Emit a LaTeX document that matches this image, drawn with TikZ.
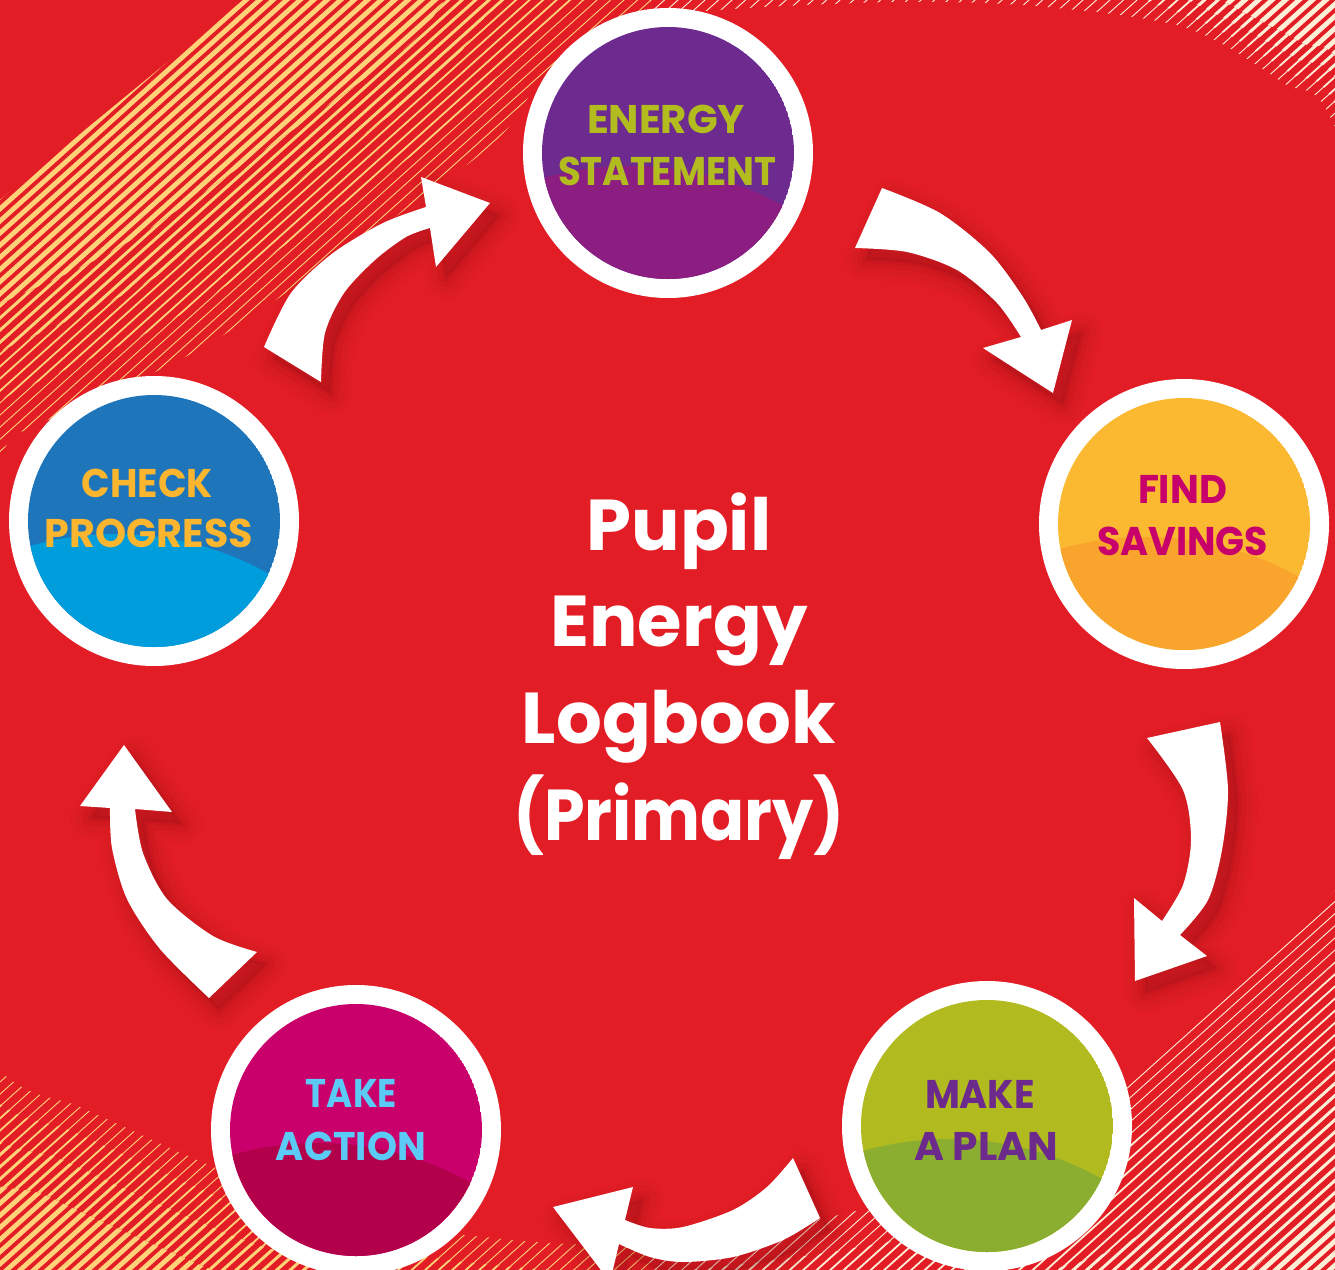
\documentclass[tikz,border=0pt]{standalone}
\usepackage{fontspec}
\setmainfont{Poppins}
\usepackage{graphicx}
\definecolor{bgred}{HTML}{E31D25}
\definecolor{stripeY}{HTML}{FFD27A}
\definecolor{stripeC}{HTML}{FDEFD6}
\definecolor{shc}{HTML}{6E070B}
\definecolor{esT}{HTML}{6D2B90}
\definecolor{esB}{HTML}{8B1E80}
\definecolor{esX}{HTML}{B3BC1F}
\definecolor{fsT}{HTML}{FBB931}
\definecolor{fsB}{HTML}{F9A52D}
\definecolor{fsX}{HTML}{C8006B}
\definecolor{mpT}{HTML}{B1BA1F}
\definecolor{mpB}{HTML}{8BAE30}
\definecolor{mpX}{HTML}{6D2A8D}
\definecolor{taT}{HTML}{C9006B}
\definecolor{taB}{HTML}{B3004A}
\definecolor{taX}{HTML}{5BCBF5}
\definecolor{cpT}{HTML}{1F75BA}
\definecolor{cpB}{HTML}{009DDC}
\definecolor{cpX}{HTML}{FBB52F}

% band boundaries (inner = C0 ... outer = C3)
\newcommand\CzeroP[1]{#1 plot[smooth cycle] coordinates {(-150,700) (0,455) (34,427) (180,360) (276,300) (486,150) (543,80) (640,20) (857,3) (1020,5) (1183,27) (1283,83) (1335,127) (1450,450) (1440,780) (1335,890) (1245,975) (1155,1060) (1010,1160) (860,1210) (650,1245) (450,1233) (300,1200) (200,1161) (83,1108) (0,1071) (-150,900)};}
\newcommand\ConeP[1]{#1 plot[smooth cycle] coordinates {(-160,720) (-25,424) (9,396) (155,329) (251,269) (461,119) (518,49) (615,-11) (857,-40) (1020,-35) (1190,17) (1290,73) (1342,117) (1480,450) (1470,790) (1370,927) (1280,1012) (1190,1097) (1045,1197) (870,1245) (650,1272) (450,1260) (290,1225) (190,1184) (73,1131) (-10,1094) (-160,900)};}
\newcommand\CtwoP[1]{#1 plot[smooth cycle] coordinates {(-170,740) (-54,389) (-20,361) (126,294) (222,234) (432,84) (489,14) (586,-46) (857,-90) (1020,-80) (1195,4) (1295,58) (1349,100) (1520,450) (1510,800) (1425,985) (1335,1070) (1245,1155) (1100,1255) (900,1290) (650,1300) (450,1290) (278,1251) (178,1212) (61,1159) (-22,1122) (-170,900)};}
\newcommand\CthreeP[1]{#1 plot[smooth cycle] coordinates {(-180,760) (-82,354) (-48,326) (98,259) (194,199) (404,49) (461,-21) (558,-81) (857,-140) (1020,-130) (1200,-12) (1300,42) (1355,84) (1560,450) (1550,820) (1490,1050) (1400,1135) (1310,1220) (1170,1320) (950,1340) (650,1340) (450,1330) (262,1287) (162,1248) (45,1195) (-38,1158) (-180,900)};}

\newcommand\stripeset[2]{%
  \foreach \i in {-1,...,205}{\draw[#2, line width=#1] ({\i*13.5+170},-150) -- ({\i*13.5-1600},1440);}}
\newcommand\stripelevel[1]{%
  \begin{scope}\clip (-50,-250) rectangle (650,1550); \stripeset{#1}{stripeY}\end{scope}
  \begin{scope}\clip (650,-250) rectangle (1600,1550); \stripeset{#1}{stripeC}\end{scope}}

% arrows
\newcommand\ArrA[1]{#1 plot[smooth] coordinates {(882,188) (940,213) (990,253) (1023,297) (1041,330)} -- (1072,320) -- (1053,393) -- (983,348) -- plot[smooth] coordinates {(1021,337) (997,303) (957,270) (907,252) (855,248)} -- cycle;}
\newcommand\ArrB[1]{#1 plot[smooth] coordinates {(1220,722) (1228,790) (1222,850) (1208,900) (1180,935)} -- (1207,956) -- (1135,981) -- (1134,898) -- plot[smooth] coordinates {(1162,921) (1183,885) (1191,840) (1183,790) (1147,738)} -- cycle;}
\newcommand\ArrC[1]{#1 plot[smooth] coordinates {(793,1158) (767,1187) (733,1210) (683,1227) (650,1228) (625,1220)} -- (633,1187) -- (553,1207) -- (610,1282) -- plot[smooth] coordinates {(619,1244) (650,1257) (683,1262) (733,1257) (783,1240) (820,1218)} -- cycle;}
\newcommand\ArrD[1]{#1 plot[smooth] coordinates {(209,998) (160,949) (127,899) (112,848) (110,808)} -- (80,806) -- (124,745) -- (172,812) -- plot[smooth] coordinates {(135,809) (143,853) (167,899) (213,936) (257,952)} -- cycle;}
\newcommand\ArrE[1]{#1 plot[smooth] coordinates {(264,347) (291,293) (333,253) (383,223) (426,207)} -- (421,177) -- (490,203) -- (436,267) -- plot[smooth] coordinates {(430,228) (406,237) (375,260) (344,293) (325,333) (321,382)} -- cycle;}
\newcommand\shadowof[1]{%
  #1{\path[draw=shc, draw opacity=0.035, line width=20pt, line join=round, shift={(10,12)}]}
  #1{\path[draw=shc, draw opacity=0.045, line width=14pt, line join=round, shift={(10,12)}]}
  #1{\path[draw=shc, draw opacity=0.06, line width=8pt, line join=round, shift={(10,12)}]}
  #1{\path[draw=shc, draw opacity=0.07, line width=3pt, line join=round, fill=shc, fill opacity=0.16, shift={(10,12)}]}}

\newcommand\disk[3]{%
  \begin{scope}
    \clip (#1.center) circle (63pt);
    \fill[#2] (#1.center) circle (63pt);
    \fill[#3, shift={(#1.center)}] (-38,326) circle (156.5pt);
  \end{scope}}

\tikzset{
  ring/.style={circle, fill=white, minimum size=145pt, inner sep=0pt},
  lbl/.style={anchor=base, inner sep=0pt, font=\fontsize{20}{24}\selectfont\bfseries},
  ttl/.style={anchor=base, inner sep=0pt, text=white, font=\fontsize{36}{44}\selectfont\bfseries},
  arrowfill/.style={fill=white}
}

\begin{document}
\begin{tikzpicture}[x=0.5pt,y=-0.5pt]
\useasboundingbox (0,0) rectangle (1335,1270);
\clip (0,0) rectangle (1335,1270);
% background and striped band
\fill[bgred] (-50,-50) rectangle (1400,1350);
\stripelevel{2.4pt}
\CthreeP{\fill[bgred]}
\begin{scope}\CthreeP{\clip}\stripelevel{1.5pt}\end{scope}
\CtwoP{\fill[bgred]}
\begin{scope}\CtwoP{\clip}\stripelevel{0.9pt}\end{scope}
\ConeP{\fill[bgred]}
\begin{scope}\ConeP{\clip}\stripelevel{0.45pt}\end{scope}
\CzeroP{\fill[bgred]}
\fill[bgred] (-20,-20) -- (267,-20) -- (-20,216) -- cycle;

% arrows with soft shadows
\shadowof{\ArrA}\shadowof{\ArrB}\shadowof{\ArrC}\shadowof{\ArrD}\shadowof{\ArrE}
\ArrA{\fill[arrowfill]}
\ArrB{\fill[arrowfill]}
\ArrC{\fill[arrowfill]}
\ArrD{\fill[arrowfill]}
\ArrE{\fill[arrowfill]}

% step circles
\node[ring] (es) at (668,153) {};
\node[ring] (fs) at (1184,524) {};
\node[ring] (mp) at (987,1126) {};
\node[ring] (ta) at (356,1130) {};
\node[ring] (cp) at (154,521) {};
\disk{es}{esT}{esB}
\disk{fs}{fsT}{fsB}
\disk{mp}{mpT}{mpB}
\disk{ta}{taT}{taB}
\disk{cp}{cpT}{cpB}

% labels
\node[lbl, text=esX] (es1) at (666,133) {\resizebox{79pt}{\height}{ENERGY}};
\node[lbl, text=esX] (es2) at (667,185) {\resizebox{109pt}{\height}{STATEMENT}};
\node[lbl, text=fsX] (fs1) at (1182.5,503) {\resizebox{44.5pt}{\height}{FIND}};
\node[lbl, text=fsX] (fs2) at (1182.5,555) {\resizebox{85.5pt}{\height}{SAVINGS}};
\node[lbl, text=mpX] (mp1) at (980,1108) {\resizebox{55pt}{\height}{MAKE}};
\node[lbl, text=mpX] (mp2) at (986,1160) {\resizebox{72pt}{\height}{A PLAN}};
\node[lbl, text=taX] (ta1) at (351.5,1107) {\resizebox{45.5pt}{\height}{TAKE}};
\node[lbl, text=taX] (ta2) at (351,1160) {\resizebox{75pt}{\height}{ACTION}};
\node[lbl, text=cpX] (cp1) at (147.5,497) {\resizebox{65.5pt}{\height}{CHECK}};
\node[lbl, text=cpX] (cp2) at (149,547) {\resizebox{104pt}{\height}{PROGRESS}};

% title
\node[ttl] (t1) at (679,550) {Pupil};
\node[ttl] (t2) at (679,646) {Energy};
\node[ttl] (t3) at (679,743) {Logbook};
\node[ttl] (t4) at (679,840) {\resizebox{166pt}{\height}{(Primary)}};
\end{tikzpicture}
\end{document}
